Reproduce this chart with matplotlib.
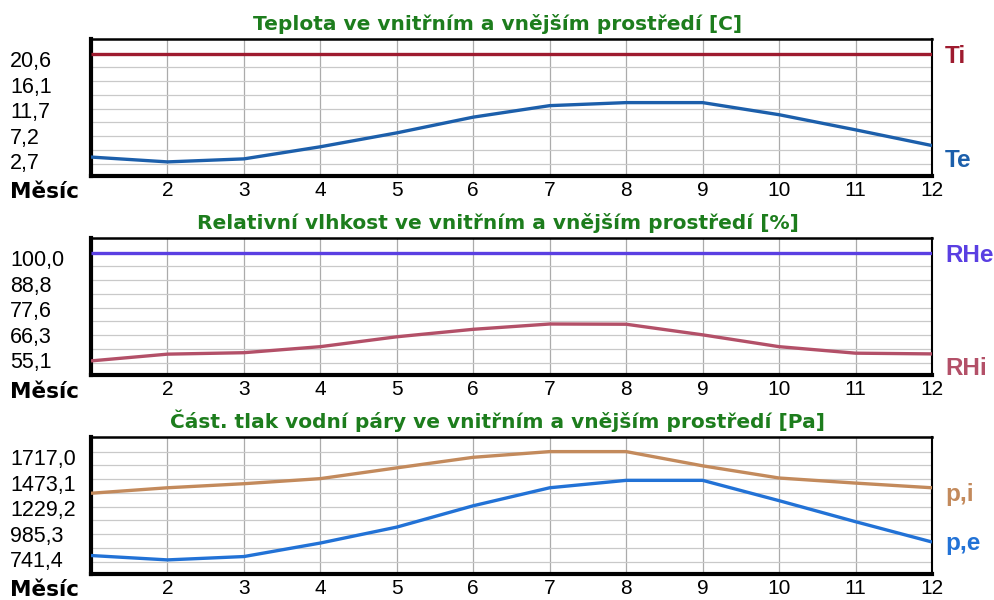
import numpy as np
import matplotlib
matplotlib.use("Agg")
import matplotlib.pyplot as plt
from matplotlib.transforms import blended_transform_factory

# data
months = list(range(1, 13))

t_i = [20.6] * 12
t_e = [3.5, 2.7, 3.2, 5.2, 7.5, 10.1, 12.0, 12.5, 12.5, 10.5, 8.0, 5.4]

rh_e = [100.0] * 12
rh_i = [55.1, 57.9, 58.5, 61.0, 65.1, 68.2, 70.4, 70.3, 65.9, 61.0, 58.3, 58.0]

p_i = [1341.8, 1391.2, 1427.8, 1473.6, 1570.6, 1665.8, 1717.0, 1717.0, 1588.9, 1479.1, 1433.3, 1391.2]
p_e = [780.8, 741.4, 771.6, 893.3, 1037.0, 1229.2, 1391.2, 1458.0, 1458.0, 1275.0, 1085.5, 902.5]

t_ticks = [20.6, 16.1, 11.7, 7.2, 2.7]
rh_ticks = [100.0, 88.8, 77.6, 66.3, 55.1]
p_ticks = [1717.0, 1473.1, 1229.2, 985.3, 741.4]

titles = [
    "Teplota ve vnitřním a vnějším prostředí [C]",
    "Relativní vlhkost ve vnitřním a vnějším prostředí [%]",
    "Část. tlak vodní páry ve vnitřním a vnějším prostředí [Pa]",
]

W, H = 995, 600
FONT = "Liberation Sans"
BOLD = "DejaVu Sans"
GREEN = "#1d7d1d"

fig = plt.figure(figsize=(W / 100, H / 100), dpi=100)
fig.patch.set_facecolor("white")

# (left, top, right, bottom) in pixels, series, colours, right-hand label positions
panels = [
    ((91, 39, 932, 176), t_ticks,
     [(t_i, "#9e1b2f", "Ti", 0.825), (t_e, "#1c5fab", "Te", 0.066)]),
    ((91, 238, 932, 375), rh_ticks,
     [(rh_e, "#5a3fe2", "RHe", 0.825), (rh_i, "#b35068", "RHi", 0.0)]),
    ((91, 437, 932, 574), p_ticks,
     [(p_i, "#c38a5c", "p,i", 0.533), (p_e, "#2272d6", "p,e", 0.175)]),
]

for (box, ticks, series), title in zip(panels, titles):
    l, t, r, b = box
    ax = fig.add_axes([l / W, 1 - b / H, (r - l) / W, (b - t) / H])

    allv = []
    for vals, col, name, yf in series:
        ax.plot(months, vals, color=col, lw=2.4, solid_capstyle="butt", zorder=3)
        allv += vals
    vmin, vmax = min(allv), max(allv)
    s = (vmax - vmin) / 107.5
    ax.set_ylim(vmin - 14 * s, vmax + 14.5 * s)
    ax.set_xlim(1, 12)

    # horizontal grid
    lo, hi = ax.get_ylim()
    ax.set_yticks(lo + np.linspace(0.893, 0.09, 9) * (hi - lo))
    ax.tick_params(axis="y", length=0, labelleft=False)
    ax.yaxis.grid(True, color="#c9c9c9", lw=0.9)

    ax.set_xticks(months[1:])
    ax.set_xticklabels([str(m) for m in months[1:]], fontsize=15, family=FONT)
    ax.tick_params(axis="x", length=0, pad=3.5)
    ax.xaxis.grid(True, color="#ababab", lw=0.9)
    ax.set_axisbelow(True)

    ax.spines["left"].set_linewidth(3)
    ax.spines["bottom"].set_linewidth(3)
    ax.spines["top"].set_linewidth(1.8)
    ax.spines["right"].set_linewidth(1.5)

    # left value labels
    tr = blended_transform_factory(fig.transFigure, ax.transAxes)
    for yf, v in zip(np.linspace(0.795, 0.05, 5), ticks):
        ax.text(10 / W, yf, f"{v:.1f}".replace(".", ","), transform=tr,
                ha="left", va="baseline", fontsize=15.5, family=FONT)

    # series names on the right
    for vals, col, name, yf in series:
        ax.text(945 / W, yf, name, transform=tr, ha="left", va="baseline",
                fontsize=17.5, fontweight="bold", color=col, family=FONT)

    fig.text(0.5, 1 - (t - 9) / H, title, ha="center", va="baseline",
             fontsize=14.5, fontweight="bold", color=GREEN, family=BOLD)
    fig.text(10 / W, 1 - (b + 22.5) / H, "Měsíc", ha="left", va="baseline",
             fontsize=15.5, fontweight="bold", family=BOLD)

fig.savefig("out.png", dpi=100)
